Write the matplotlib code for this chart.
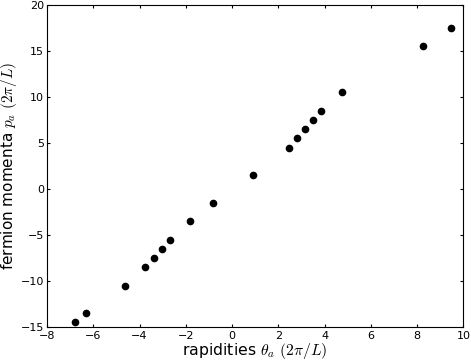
import matplotlib
matplotlib.use("Agg")
import matplotlib.pyplot as plt

# rapidities and fermion momenta, both in units of 2*pi/L
theta = [-6.79, -6.31, -4.64, -3.75, -3.39, -3.04, -2.68, -1.82, -0.83,
         0.90, 2.46, 2.82, 3.16, 3.51, 3.85, 4.76, 8.25, 9.46]
p = [-14.5, -13.5, -10.5, -8.5, -7.5, -6.5, -5.5, -3.5, -1.5,
     1.5, 4.5, 5.5, 6.5, 7.5, 8.5, 10.5, 15.5, 17.5]

plt.rcParams['mathtext.fontset'] = 'cm'

fig = plt.figure(figsize=(4.71, 3.62), dpi=100)
ax = fig.add_axes([0.0998, 0.0967, 0.8842, 0.8895])
ax.plot(theta, p, 'o', color='black', markersize=4.5)

ax.set_xlim(-8, 10)
ax.set_ylim(-15, 20)
ax.set_xticks(range(-8, 11, 2))
ax.set_yticks(range(-15, 21, 5))
ax.tick_params(direction='in', top=True, right=True, labelsize=8, length=2.5)
ax.tick_params(axis='x', pad=3)
ax.tick_params(axis='y', pad=2)
ax.set_xlabel(r'rapidities $\theta_a$ $(2\pi/L)$', fontsize=11.3, labelpad=0)
ax.set_ylabel(r'fermion momenta $p_a$ $(2\pi/L)$', fontsize=11, labelpad=1)

fig.savefig('out.png', dpi=100)
